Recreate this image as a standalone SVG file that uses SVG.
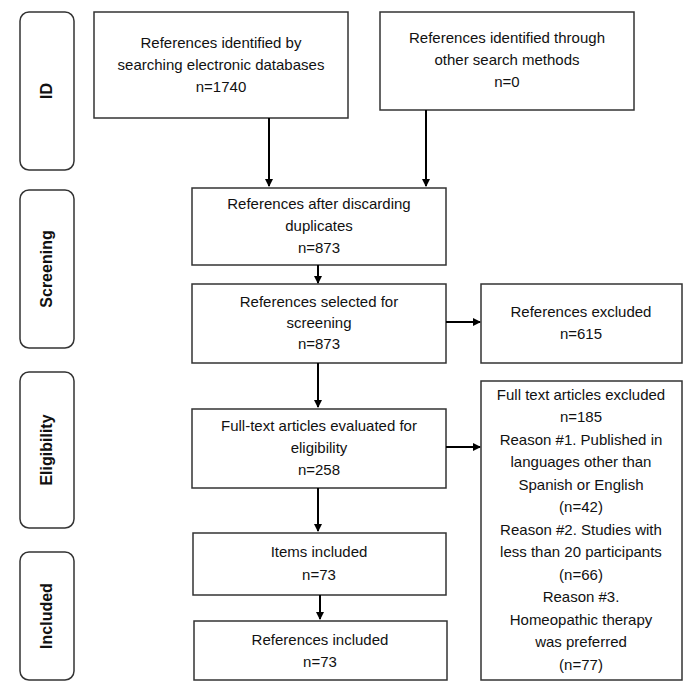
<svg xmlns="http://www.w3.org/2000/svg" width="684" height="691" viewBox="0 0 684 691">
<style>
.b{fill:#fff;stroke:#333;stroke-width:1.5}
.s{fill:#fff;stroke:#333;stroke-width:1.5}
text{font-family:"Liberation Sans",Arial,sans-serif;font-size:15px;fill:#111;text-anchor:middle;dominant-baseline:middle}
.lab{font-weight:bold;font-size:16px}
.c line{stroke:#000;stroke-width:2;marker-end:url(#a)}
</style>
<defs><marker id="a" markerWidth="8" markerHeight="8" refX="7" refY="4" orient="auto" markerUnits="userSpaceOnUse"><path d="M0,0 L8,4 L0,8 Z" fill="#000"/></marker></defs>
<rect width="684" height="691" fill="#fff"/>
<g id="lab-id"><rect class="s" x="20" y="12" width="54" height="158" rx="9"/><text class="lab" transform="translate(48,91) rotate(-90)">ID</text></g>
<g id="lab-screening"><rect class="s" x="20" y="190" width="54" height="158" rx="9"/><text class="lab" transform="translate(48,269) rotate(-90)">Screening</text></g>
<g id="lab-elig"><rect class="s" x="20" y="372" width="54" height="156" rx="9"/><text class="lab" transform="translate(48,450) rotate(-90)">Eligibility</text></g>
<g id="lab-incl"><rect class="s" x="20" y="552" width="54" height="128" rx="9"/><text class="lab" transform="translate(48,616) rotate(-90)">Included</text></g>
<g id="n1"><rect class="b" x="94" y="12" width="254" height="106"/><text x="221" y="44">References identified by</text><text x="221" y="66">searching electronic databases</text><text x="221" y="88">n=1740</text></g>
<g id="n2"><rect class="b" x="380" y="12" width="254" height="98"/><text x="507" y="39">References identified through</text><text x="507" y="61">other search methods</text><text x="507" y="83">n=0</text></g>
<g id="n3"><rect class="b" x="192" y="188" width="254" height="77"/><text x="319" y="205">References after discarding</text><text x="319" y="227">duplicates</text><text x="319" y="249">n=873</text></g>
<g id="n4"><rect class="b" x="192" y="284" width="254" height="79"/><text x="319" y="303">References selected for</text><text x="319" y="324">screening</text><text x="319" y="345">n=873</text></g>
<g id="n5"><rect class="b" x="481" y="284" width="201" height="79"/><text x="581" y="313">References excluded</text><text x="581" y="335">n=615</text></g>
<g id="n6"><rect class="b" x="192" y="409" width="254" height="79"/><text x="319" y="427">Full-text articles evaluated for</text><text x="319" y="449">eligibility</text><text x="319" y="471">n=258</text></g>
<g id="n7"><rect class="b" x="481" y="381" width="201" height="299"/>
<text x="581" y="396">Full text articles excluded</text><text x="581" y="418">n=185</text><text x="581" y="441">Reason #1. Published in</text><text x="581" y="463">languages other than</text><text x="581" y="486">Spanish or English</text><text x="581" y="508">(n=42)</text><text x="581" y="531">Reason #2. Studies with</text><text x="581" y="553">less than 20 participants</text><text x="581" y="576">(n=66)</text><text x="581" y="598">Reason #3.</text><text x="581" y="621">Homeopathic therapy</text><text x="581" y="643">was preferred</text><text x="581" y="666">(n=77)</text></g>
<g id="n8"><rect class="b" x="193" y="533" width="253" height="62"/><text x="319" y="553">Items included</text><text x="319" y="576">n=73</text></g>
<g id="n9"><rect class="b" x="194" y="621" width="253" height="59"/><text x="320" y="641">References included</text><text x="320" y="663">n=73</text></g>
<g class="c" id="connectors">
<line x1="269" y1="118" x2="269" y2="186"/>
<line x1="426" y1="110" x2="426" y2="186"/>
<line x1="318" y1="265" x2="318" y2="283"/>
<line x1="446" y1="322" x2="480" y2="322"/>
<line x1="318" y1="363" x2="318" y2="407"/>
<line x1="446" y1="447" x2="480" y2="447"/>
<line x1="318" y1="488" x2="318" y2="531"/>
<line x1="320" y1="595" x2="320" y2="619"/>
</g>
</svg>
